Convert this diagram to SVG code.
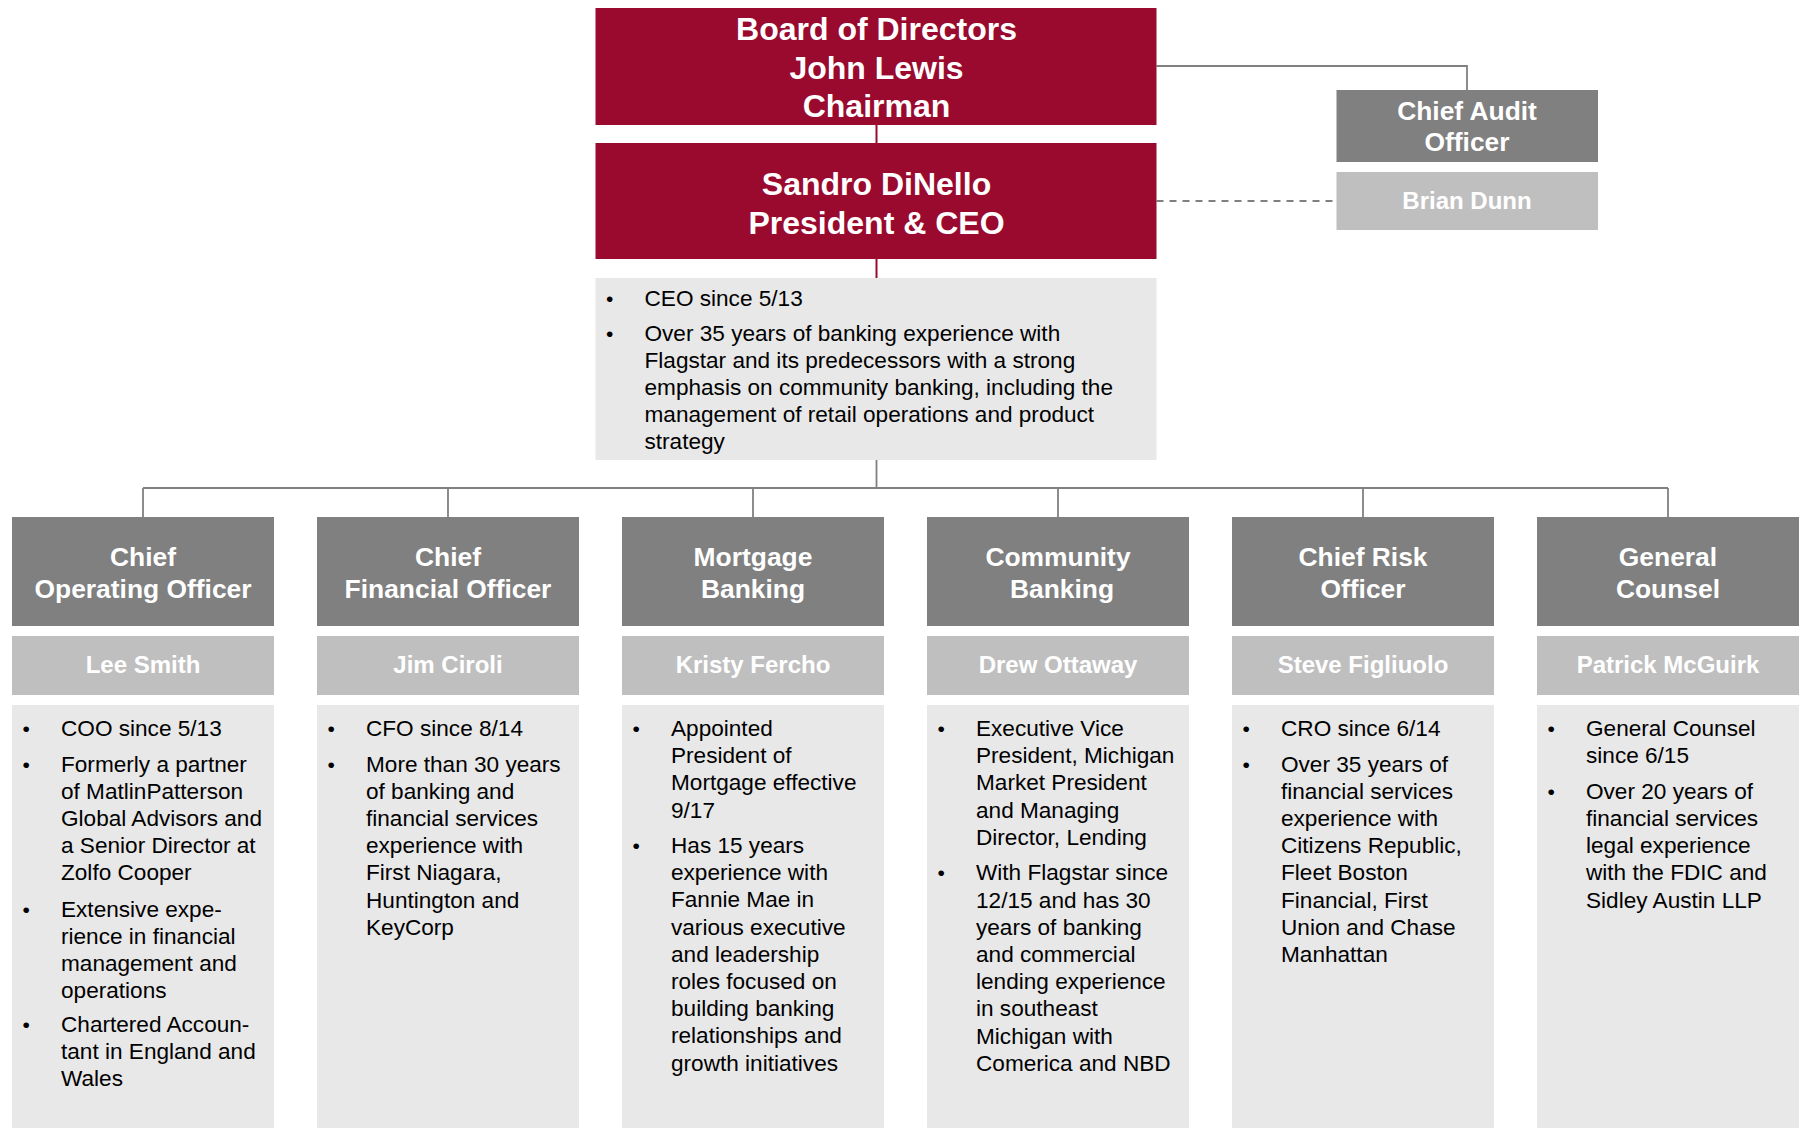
<svg xmlns="http://www.w3.org/2000/svg" width="1799" height="1128" viewBox="0 0 1799 1128">
  <style>
    .red { fill: #990a2e; }
    .role { fill: #808080; }
    .name { fill: #bfbfbf; }
    .bio { fill: #e8e8e8; }
    .hd { font-family: "Liberation Sans", Arial, sans-serif; font-weight: bold; fill: #ffffff; text-anchor: middle; }
    .top { font-size: 32px; }
    .ttl { font-size: 26.4px; }
    .nm { font-size: 24px; }
    .txt { font-family: "Liberation Sans", Arial, sans-serif; font-size: 22.6px; fill: #000000; }
    .bul { font-family: "Liberation Sans", Arial, sans-serif; font-size: 21px; fill: #000000; }
    .ln { stroke: #808080; stroke-width: 1.8; fill: none; }
    .lnr { stroke: #990a2e; stroke-width: 2; fill: none; }
    .dash { stroke: #808080; stroke-width: 2; stroke-dasharray: 7 6; fill: none; }
  </style>
  <rect width="1799" height="1128" fill="#ffffff"/>

  <!-- connectors -->
  <g id="connectors">
    <line class="lnr" x1="876.5" y1="125" x2="876.5" y2="143"/>
    <line class="lnr" x1="876.5" y1="259" x2="876.5" y2="278"/>
    <polyline class="ln" points="1156.5,66 1467,66 1467,90"/>
    <line class="dash" x1="1156.5" y1="201" x2="1336" y2="201"/>
    <line class="ln" x1="876.5" y1="460" x2="876.5" y2="488" stroke-width="2.4"/>
    <line class="ln" x1="143" y1="488" x2="1668" y2="488"/>
    <line class="ln" x1="143" y1="488" x2="143" y2="517"/>
    <line class="ln" x1="448" y1="488" x2="448" y2="517"/>
    <line class="ln" x1="753" y1="488" x2="753" y2="517"/>
    <line class="ln" x1="1058" y1="488" x2="1058" y2="517"/>
    <line class="ln" x1="1363" y1="488" x2="1363" y2="517"/>
    <line class="ln" x1="1668" y1="488" x2="1668" y2="517"/>
  </g>

  <!-- board -->
  <g id="board">
    <rect class="red" x="595.5" y="8" width="561" height="117"/>
    <text class="hd top" x="876.5" y="40">Board of Directors</text>
    <text class="hd top" x="876.5" y="78.5">John Lewis</text>
    <text class="hd top" x="876.5" y="117">Chairman</text>
  </g>

  <!-- chief executive -->
  <g id="ceo">
    <rect class="red" x="595.5" y="143" width="561" height="116"/>
    <text class="hd top" x="876.5" y="195">Sandro DiNello</text>
    <text class="hd top" x="876.5" y="233.5">President &amp; CEO</text>
    <rect class="bio" x="595.5" y="278" width="561" height="182"/>
    <text class="bul" x="606" y="306">•</text>
    <text class="txt" x="644.5" y="306">CEO since 5/13</text>
    <text class="bul" x="606" y="341">•</text>
    <text class="txt">
      <tspan x="644.5" y="341">Over 35 years of banking experience with</tspan>
      <tspan x="644.5" y="368">Flagstar and its predecessors with a strong</tspan>
      <tspan x="644.5" y="395">emphasis on community banking, including the</tspan>
      <tspan x="644.5" y="422">management of retail operations and product</tspan>
      <tspan x="644.5" y="449">strategy</tspan>
    </text>
  </g>

  <!-- audit -->
  <g id="audit">
    <rect class="role" x="1336.5" y="90" width="261.5" height="72"/>
    <text class="hd ttl" x="1467" y="119.5">Chief Audit</text>
    <text class="hd ttl" x="1467" y="151">Officer</text>
    <rect class="name" x="1336.5" y="172" width="261.5" height="58"/>
    <text class="hd nm" x="1467" y="209">Brian Dunn</text>
  </g>

  <!-- operating -->
  <g id="coo">
    <rect class="role" x="12" y="517" width="262" height="109"/>
    <text class="hd ttl" x="143" y="566">Chief</text>
    <text class="hd ttl" x="143" y="598">Operating Officer</text>
    <rect class="name" x="12" y="636" width="262" height="59"/>
    <text class="hd nm" x="143" y="673">Lee Smith</text>
    <rect class="bio" x="12" y="705" width="262" height="423"/>
    <text class="bul" x="22.5" y="736">•</text>
    <text class="txt" x="61" y="736">COO since 5/13</text>
    <text class="bul" x="22.5" y="771.5">•</text>
    <text class="txt">
      <tspan x="61" y="771.5">Formerly a partner</tspan>
      <tspan x="61" y="798.7">of MatlinPatterson</tspan>
      <tspan x="61" y="825.9">Global Advisors and</tspan>
      <tspan x="61" y="853.1">a Senior Director at</tspan>
      <tspan x="61" y="880.3">Zolfo Cooper</tspan>
    </text>
    <text class="bul" x="22.5" y="916.5">•</text>
    <text class="txt">
      <tspan x="61" y="916.5">Extensive expe-</tspan>
      <tspan x="61" y="943.7">rience in financial</tspan>
      <tspan x="61" y="970.9">management and</tspan>
      <tspan x="61" y="998.1">operations</tspan>
    </text>
    <text class="bul" x="22.5" y="1032">•</text>
    <text class="txt">
      <tspan x="61" y="1032">Chartered Accoun-</tspan>
      <tspan x="61" y="1059.2">tant in England and</tspan>
      <tspan x="61" y="1086.4">Wales</tspan>
    </text>
  </g>

  <!-- financial -->
  <g id="cfo">
    <rect class="role" x="317" y="517" width="262" height="109"/>
    <text class="hd ttl" x="448" y="566">Chief</text>
    <text class="hd ttl" x="448" y="598">Financial Officer</text>
    <rect class="name" x="317" y="636" width="262" height="59"/>
    <text class="hd nm" x="448" y="673">Jim Ciroli</text>
    <rect class="bio" x="317" y="705" width="262" height="423"/>
    <text class="bul" x="327.5" y="736">•</text>
    <text class="txt" x="366" y="736">CFO since 8/14</text>
    <text class="bul" x="327.5" y="771.5">•</text>
    <text class="txt">
      <tspan x="366" y="771.5">More than 30 years</tspan>
      <tspan x="366" y="798.7">of banking and</tspan>
      <tspan x="366" y="825.9">financial services</tspan>
      <tspan x="366" y="853.1">experience with</tspan>
      <tspan x="366" y="880.3">First Niagara,</tspan>
      <tspan x="366" y="907.5">Huntington and</tspan>
      <tspan x="366" y="934.7">KeyCorp</tspan>
    </text>
  </g>

  <!-- mortgage -->
  <g id="mortgage">
    <rect class="role" x="622" y="517" width="262" height="109"/>
    <text class="hd ttl" x="753" y="566">Mortgage</text>
    <text class="hd ttl" x="753" y="598">Banking</text>
    <rect class="name" x="622" y="636" width="262" height="59"/>
    <text class="hd nm" x="753" y="673">Kristy Fercho</text>
    <rect class="bio" x="622" y="705" width="262" height="423"/>
    <text class="bul" x="632.5" y="736">•</text>
    <text class="txt">
      <tspan x="671" y="736">Appointed</tspan>
      <tspan x="671" y="763.2">President of</tspan>
      <tspan x="671" y="790.4">Mortgage effective</tspan>
      <tspan x="671" y="817.6">9/17</tspan>
    </text>
    <text class="bul" x="632.5" y="853">•</text>
    <text class="txt">
      <tspan x="671" y="853">Has 15 years</tspan>
      <tspan x="671" y="880.2">experience with</tspan>
      <tspan x="671" y="907.4">Fannie Mae in</tspan>
      <tspan x="671" y="934.6">various executive</tspan>
      <tspan x="671" y="961.8">and leadership</tspan>
      <tspan x="671" y="989">roles focused on</tspan>
      <tspan x="671" y="1016.2">building banking</tspan>
      <tspan x="671" y="1043.4">relationships and</tspan>
      <tspan x="671" y="1070.6">growth initiatives</tspan>
    </text>
  </g>

  <!-- community -->
  <g id="community">
    <rect class="role" x="927" y="517" width="262" height="109"/>
    <text class="hd ttl" x="1058" y="566">Community</text>
    <text class="hd ttl" x="1062" y="598">Banking</text>
    <rect class="name" x="927" y="636" width="262" height="59"/>
    <text class="hd nm" x="1058" y="673">Drew Ottaway</text>
    <rect class="bio" x="927" y="705" width="262" height="423"/>
    <text class="bul" x="937.5" y="736">•</text>
    <text class="txt">
      <tspan x="976" y="736">Executive Vice</tspan>
      <tspan x="976" y="763.2">President, Michigan</tspan>
      <tspan x="976" y="790.4">Market President</tspan>
      <tspan x="976" y="817.6">and Managing</tspan>
      <tspan x="976" y="844.8">Director, Lending</tspan>
    </text>
    <text class="bul" x="937.5" y="880.3">•</text>
    <text class="txt">
      <tspan x="976" y="880.3">With Flagstar since</tspan>
      <tspan x="976" y="907.5">12/15 and has 30</tspan>
      <tspan x="976" y="934.7">years of banking</tspan>
      <tspan x="976" y="961.9">and commercial</tspan>
      <tspan x="976" y="989.1">lending experience</tspan>
      <tspan x="976" y="1016.3">in southeast</tspan>
      <tspan x="976" y="1043.5">Michigan with</tspan>
      <tspan x="976" y="1070.7">Comerica and NBD</tspan>
    </text>
  </g>

  <!-- risk -->
  <g id="cro">
    <rect class="role" x="1232" y="517" width="262" height="109"/>
    <text class="hd ttl" x="1363" y="566">Chief Risk</text>
    <text class="hd ttl" x="1363" y="598">Officer</text>
    <rect class="name" x="1232" y="636" width="262" height="59"/>
    <text class="hd nm" x="1363" y="673">Steve Figliuolo</text>
    <rect class="bio" x="1232" y="705" width="262" height="423"/>
    <text class="bul" x="1242.5" y="736">•</text>
    <text class="txt" x="1281" y="736">CRO since 6/14</text>
    <text class="bul" x="1242.5" y="771.5">•</text>
    <text class="txt">
      <tspan x="1281" y="771.5">Over 35 years of</tspan>
      <tspan x="1281" y="798.7">financial services</tspan>
      <tspan x="1281" y="825.9">experience with</tspan>
      <tspan x="1281" y="853.1">Citizens Republic,</tspan>
      <tspan x="1281" y="880.3">Fleet Boston</tspan>
      <tspan x="1281" y="907.5">Financial, First</tspan>
      <tspan x="1281" y="934.7">Union and Chase</tspan>
      <tspan x="1281" y="961.9">Manhattan</tspan>
    </text>
  </g>

  <!-- counsel -->
  <g id="counsel">
    <rect class="role" x="1537" y="517" width="262" height="109"/>
    <text class="hd ttl" x="1668" y="566">General</text>
    <text class="hd ttl" x="1668" y="598">Counsel</text>
    <rect class="name" x="1537" y="636" width="262" height="59"/>
    <text class="hd nm" x="1668" y="673">Patrick McGuirk</text>
    <rect class="bio" x="1537" y="705" width="262" height="423"/>
    <text class="bul" x="1547.5" y="736">•</text>
    <text class="txt">
      <tspan x="1586" y="736">General Counsel</tspan>
      <tspan x="1586" y="763.2">since 6/15</tspan>
    </text>
    <text class="bul" x="1547.5" y="798.7">•</text>
    <text class="txt">
      <tspan x="1586" y="798.7">Over 20 years of</tspan>
      <tspan x="1586" y="825.9">financial services</tspan>
      <tspan x="1586" y="853.1">legal experience</tspan>
      <tspan x="1586" y="880.3">with the FDIC and</tspan>
      <tspan x="1586" y="907.5">Sidley Austin LLP</tspan>
    </text>
  </g>
</svg>
